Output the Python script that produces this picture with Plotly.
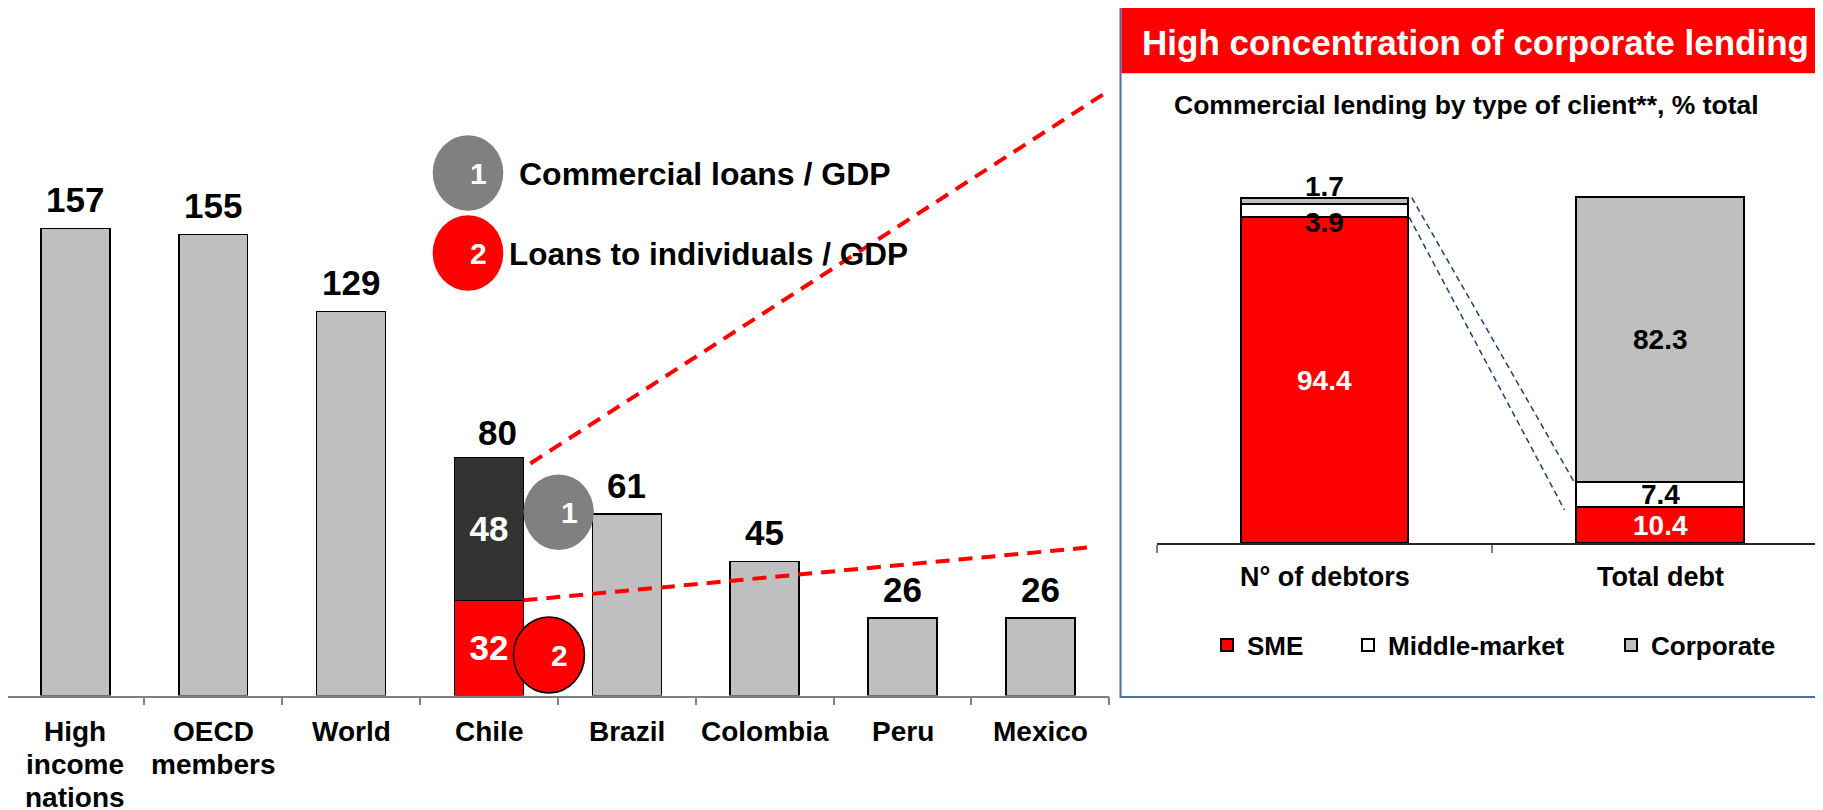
import plotly.graph_objects as go

W, H = 1823, 810
OFF = 8  # page offset of the figure inside the browser body
FONT = "Liberation Sans"

# ---------------- data ----------------
countries = ["High income nations", "OECD members", "World", "Chile",
             "Brazil", "Colombia", "Peru", "Mexico"]
country_label_lines = [["High", "income", "nations"], ["OECD", "members"], ["World"],
                       ["Chile"], ["Brazil"], ["Colombia"], ["Peru"], ["Mexico"]]
loans_to_gdp = [157, 155, 129, 80, 61, 45, 26, 26]
chile_individual_loans = 32
chile_commercial_loans = 48

client_categories = ["N° of debtors", "Total debt"]
sme_share = [94.4, 10.4]
middle_market_share = [3.9, 7.4]
corporate_share = [1.7, 82.3]

legend_items = ["Commercial loans / GDP", "Loans to individuals / GDP"]
title_text = "High concentration of corporate lending"
subtitle_text = "Commercial lending by type of client**, % total"

# ---------------- colours ----------------
GRAY = "#BFBFBF"
RED = "#FF0000"
DARK = "#333333"
CIRCLE_GRAY = "#808080"
BOX_BLUE = "#4A6FA5"
AXIS_GRAY = "#7F7F7F"


def px(x):
    return (x - OFF) / W


def py(y):
    return 1 - (y - OFF) / H


def b(t):
    return "<b>" + t + "</b>"


# left chart geometry (page pixels)
L_CAT = 137.85
L_X0, L_X1 = 6.5, 1109.3
L_BASE, L_PPU, L_YMAX = 695.5, 2.975, 205
# right chart geometry
R_X0, R_CAT = 1156.8, 335.5
R_BASE, R_PPU, R_YMAX = 543.0, 3.453, 110

fig = go.Figure()

# ---- left: loans / GDP ----
gray_vals = [None if c == "Chile" else v for c, v in zip(countries, loans_to_gdp)]
fig.add_trace(go.Bar(x=countries, y=gray_vals, width=0.5, marker=dict(color=GRAY, line=dict(color="black", width=1.5)),
                     showlegend=False, xaxis="x", yaxis="y", hoverinfo="skip"))
fig.add_trace(go.Bar(x=["Chile"], y=[chile_individual_loans], width=0.5,
                     marker=dict(color=RED, line=dict(color="black", width=1.5)),
                     text=[b(str(chile_individual_loans))], textposition="inside", insidetextanchor="middle",
                     constraintext="none",
                     textfont=dict(family=FONT, size=35, color="white"),
                     showlegend=False, xaxis="x", yaxis="y", hoverinfo="skip"))
fig.add_trace(go.Bar(x=["Chile"], y=[chile_commercial_loans], width=0.5,
                     marker=dict(color=DARK, line=dict(color="black", width=1.5)),
                     text=[b(str(chile_commercial_loans))], textposition="inside", insidetextanchor="middle",
                     constraintext="none",
                     textfont=dict(family=FONT, size=35, color="white"),
                     showlegend=False, xaxis="x", yaxis="y", hoverinfo="skip"))

# ---- right: commercial lending by client type ----
fig.add_trace(go.Bar(x=client_categories, y=sme_share, name=b("SME"), width=0.5,
                     marker=dict(color=RED, line=dict(color="black", width=2)),
                     xaxis="x2", yaxis="y2", legend="legend", hoverinfo="skip"))
fig.add_trace(go.Bar(x=client_categories, y=middle_market_share, name=b("Middle-market"), width=0.5,
                     marker=dict(color="white", line=dict(color="black", width=2)),
                     xaxis="x2", yaxis="y2", legend="legend2", hoverinfo="skip"))
fig.add_trace(go.Bar(x=client_categories, y=corporate_share, name=b("Corporate"), width=0.5,
                     marker=dict(color=GRAY, line=dict(color="black", width=2)),
                     xaxis="x2", yaxis="y2", legend="legend3", hoverinfo="skip"))

annotations = []
shapes = []

# total labels above left bars (Chile's total sits slightly right of the bar centre)
for c, v in zip(countries, loans_to_gdp):
    xs = 9 if c == "Chile" else 0
    ys = 25 if c == "Chile" else 29
    annotations.append(dict(x=c, y=v, xref="x", yref="y", text=b(str(v)), showarrow=False,
                            yanchor="middle", yshift=ys, xshift=xs,
                            font=dict(family=FONT, size=35, color="black")))
# category labels (multi-line)
for c, lines in zip(countries, country_label_lines):
    for k, line in enumerate(lines):
        annotations.append(dict(x=c, y=py(731.5 + 33 * k), xref="x", yref="paper", text=b(line),
                                showarrow=False, yanchor="middle",
                                font=dict(family=FONT, size=28, color="black")))

# right chart value labels
right_labels = [
    dict(x=client_categories[0], y=sme_share[0] / 2, text=b(str(sme_share[0])), fc="white", ys=0),
    dict(x=client_categories[1], y=sme_share[1] / 2, text=b(str(sme_share[1])), fc="white", ys=0),
    dict(x=client_categories[0], y=sme_share[0], text=b(str(middle_market_share[0])), fc="black", ys=-5),
    dict(x=client_categories[1], y=sme_share[1] + middle_market_share[1] / 2,
         text=b(str(middle_market_share[1])), fc="black", ys=0),
    dict(x=client_categories[0], y=sme_share[0] + middle_market_share[0] + corporate_share[0],
         text=b(str(corporate_share[0])), fc="black", ys=11),
    dict(x=client_categories[1], y=sme_share[1] + middle_market_share[1] + corporate_share[1] / 2,
         text=b(str(corporate_share[1])), fc="black", ys=0),
]
for a in right_labels:
    fc = a.pop("fc")
    ys = a.pop("ys")
    a.update(dict(xref="x2", yref="y2", showarrow=False, yanchor="middle", yshift=ys,
                  font=dict(family=FONT, size=28, color=fc)))
    annotations.append(a)

for c in client_categories:
    annotations.append(dict(x=c, y=py(576.7), xref="x2", yref="paper", text=b(c), showarrow=False,
                            yanchor="middle", font=dict(family=FONT, size=27, color="black")))

# ---- right panel frame and title ----
shapes.append(dict(type="rect", xref="paper", yref="paper", x0=px(1120.5), x1=1.01, y0=py(697), y1=py(6.5),
                   line=dict(color=BOX_BLUE, width=2), fillcolor="rgba(0,0,0,0)", layer="below"))
shapes.append(dict(type="rect", xref="paper", yref="paper", x0=px(1121.5), x1=1.01, y0=py(73.3), y1=py(7.5),
                   line=dict(width=0), fillcolor=RED, layer="below"))
annotations.append(dict(x=px(1475), y=py(42.5), xref="paper", yref="paper", text=b(title_text),
                        showarrow=False, yanchor="middle", xanchor="center",
                        font=dict(family=FONT, size=35, color="white")))
annotations.append(dict(x=px(1171.5), y=py(105.5), xref="paper", yref="paper", text=b(subtitle_text),
                        showarrow=False, yanchor="middle", xanchor="left",
                        font=dict(family=FONT, size=26.5, color="black")))

# ---- numbered legend circles (top) ----
circle_specs = [("1", CIRCLE_GRAY, 173), ("2", RED, 253)]
for (num, col, cy), label in zip(circle_specs, legend_items):
    shapes.append(dict(type="circle", xref="paper", yref="paper", x0=px(432.7), x1=px(503.3),
                       y0=py(cy + 37.8), y1=py(cy - 37.8), fillcolor=col, line=dict(width=0)))
    annotations.append(dict(x=px(468), y=py(cy), xref="paper", yref="paper", text=b(num), showarrow=False,
                            yanchor="middle", font=dict(family=FONT, size=30, color="white")))
annotations.append(dict(x=px(516.5), y=py(173.6), xref="paper", yref="paper", text=b(legend_items[0]),
                        showarrow=False, xanchor="left", yanchor="middle",
                        font=dict(family=FONT, size=32, color="black")))
annotations.append(dict(x=px(507), y=py(253.6), xref="paper", yref="paper", text=b(legend_items[1]),
                        showarrow=False, xanchor="left", yanchor="middle",
                        font=dict(family=FONT, size=31.5, color="black")))

# ---- dashed red connectors from Chile bar to panel ----
shapes.append(dict(type="line", xref="x", yref="y", x0=3.3, y0=78, x1=7.47, y1=202.5,
                   line=dict(color=RED, width=4, dash="14px,9px")))
shapes.append(dict(type="line", xref="x", yref="y", x0=3.25, y0=chile_individual_loans, x1=7.38, y1=49.9,
                   line=dict(color=RED, width=4, dash="14px,9px")))

# ---- circles next to Chile bar ----
shapes.append(dict(type="circle", xref="paper", yref="paper", x0=px(523.5), x1=px(593.8),
                   y0=py(550), y1=py(474.5), fillcolor=CIRCLE_GRAY, line=dict(width=0)))
annotations.append(dict(x=px(558.6), y=py(512), xref="paper", yref="paper", text=b("1"), showarrow=False,
                        yanchor="middle", font=dict(family=FONT, size=30, color="white")))
shapes.append(dict(type="circle", xref="paper", yref="paper", x0=px(513.5), x1=px(584.5),
                   y0=py(693), y1=py(617), fillcolor=RED, line=dict(color="black", width=1.5)))
annotations.append(dict(x=px(549), y=py(655), xref="paper", yref="paper", text=b("2"), showarrow=False,
                        yanchor="middle", font=dict(family=FONT, size=30, color="white")))

# ---- blue dashed connectors in the panel ----
shapes.append(dict(type="line", xref="x2", yref="y2", x0=0.26, y0=100, x1=0.745, y1=17.5,
                   line=dict(color="#1F3F7A", width=1.5, dash="6px,4px")))
shapes.append(dict(type="line", xref="x2", yref="y2", x0=0.252, y0=sme_share[0], x1=0.715, y1=9.6,
                   line=dict(color="#1F3F7A", width=1.5, dash="6px,4px")))

axis_common = dict(type="category", showgrid=False, zeroline=False, showticklabels=False,
                   ticks="outside", tickson="boundaries", ticklen=8, tickwidth=1.5, fixedrange=True)

legend_common = dict(orientation="h", xanchor="left", yanchor="middle", bgcolor="rgba(0,0,0,0)",
                     borderwidth=0, font=dict(family=FONT, size=26, color="black"))

left_x_start = max(L_X0, OFF)
fig.update_layout(
    width=W, height=H, autosize=False,
    margin=dict(l=0, r=0, t=0, b=0),
    paper_bgcolor="white", plot_bgcolor="rgba(0,0,0,0)",
    barmode="stack",
    font=dict(family=FONT),
    xaxis=dict(domain=[px(left_x_start), px(L_X1)],
               range=[-0.5 + (left_x_start - L_X0) / L_CAT, 7.5], categoryorder="array",
               categoryarray=countries, showline=True, linecolor=AXIS_GRAY, linewidth=1.5,
               tickcolor=AXIS_GRAY, anchor="y", **axis_common),
    yaxis=dict(domain=[py(L_BASE), py(L_BASE - L_YMAX * L_PPU)], range=[0, L_YMAX], visible=False,
               fixedrange=True, anchor="x"),
    xaxis2=dict(domain=[px(R_X0), 1.0], range=[-0.5, -0.5 + (W + OFF - R_X0) / R_CAT], categoryorder="array",
                categoryarray=client_categories, showline=True, linecolor="#262626", linewidth=1.5,
                tickcolor=AXIS_GRAY, anchor="y2", **axis_common),
    yaxis2=dict(domain=[py(R_BASE), py(R_BASE - R_YMAX * R_PPU)], range=[0, R_YMAX], visible=False,
                fixedrange=True, anchor="x2"),
    legend=dict(x=px(1230 - 23), y=py(645), **legend_common),
    legend2=dict(x=px(1371 - 23), y=py(645), **legend_common),
    legend3=dict(x=px(1634 - 23), y=py(645), **legend_common),
    annotations=annotations,
    shapes=shapes,
)

fig.write_html("out.html")
